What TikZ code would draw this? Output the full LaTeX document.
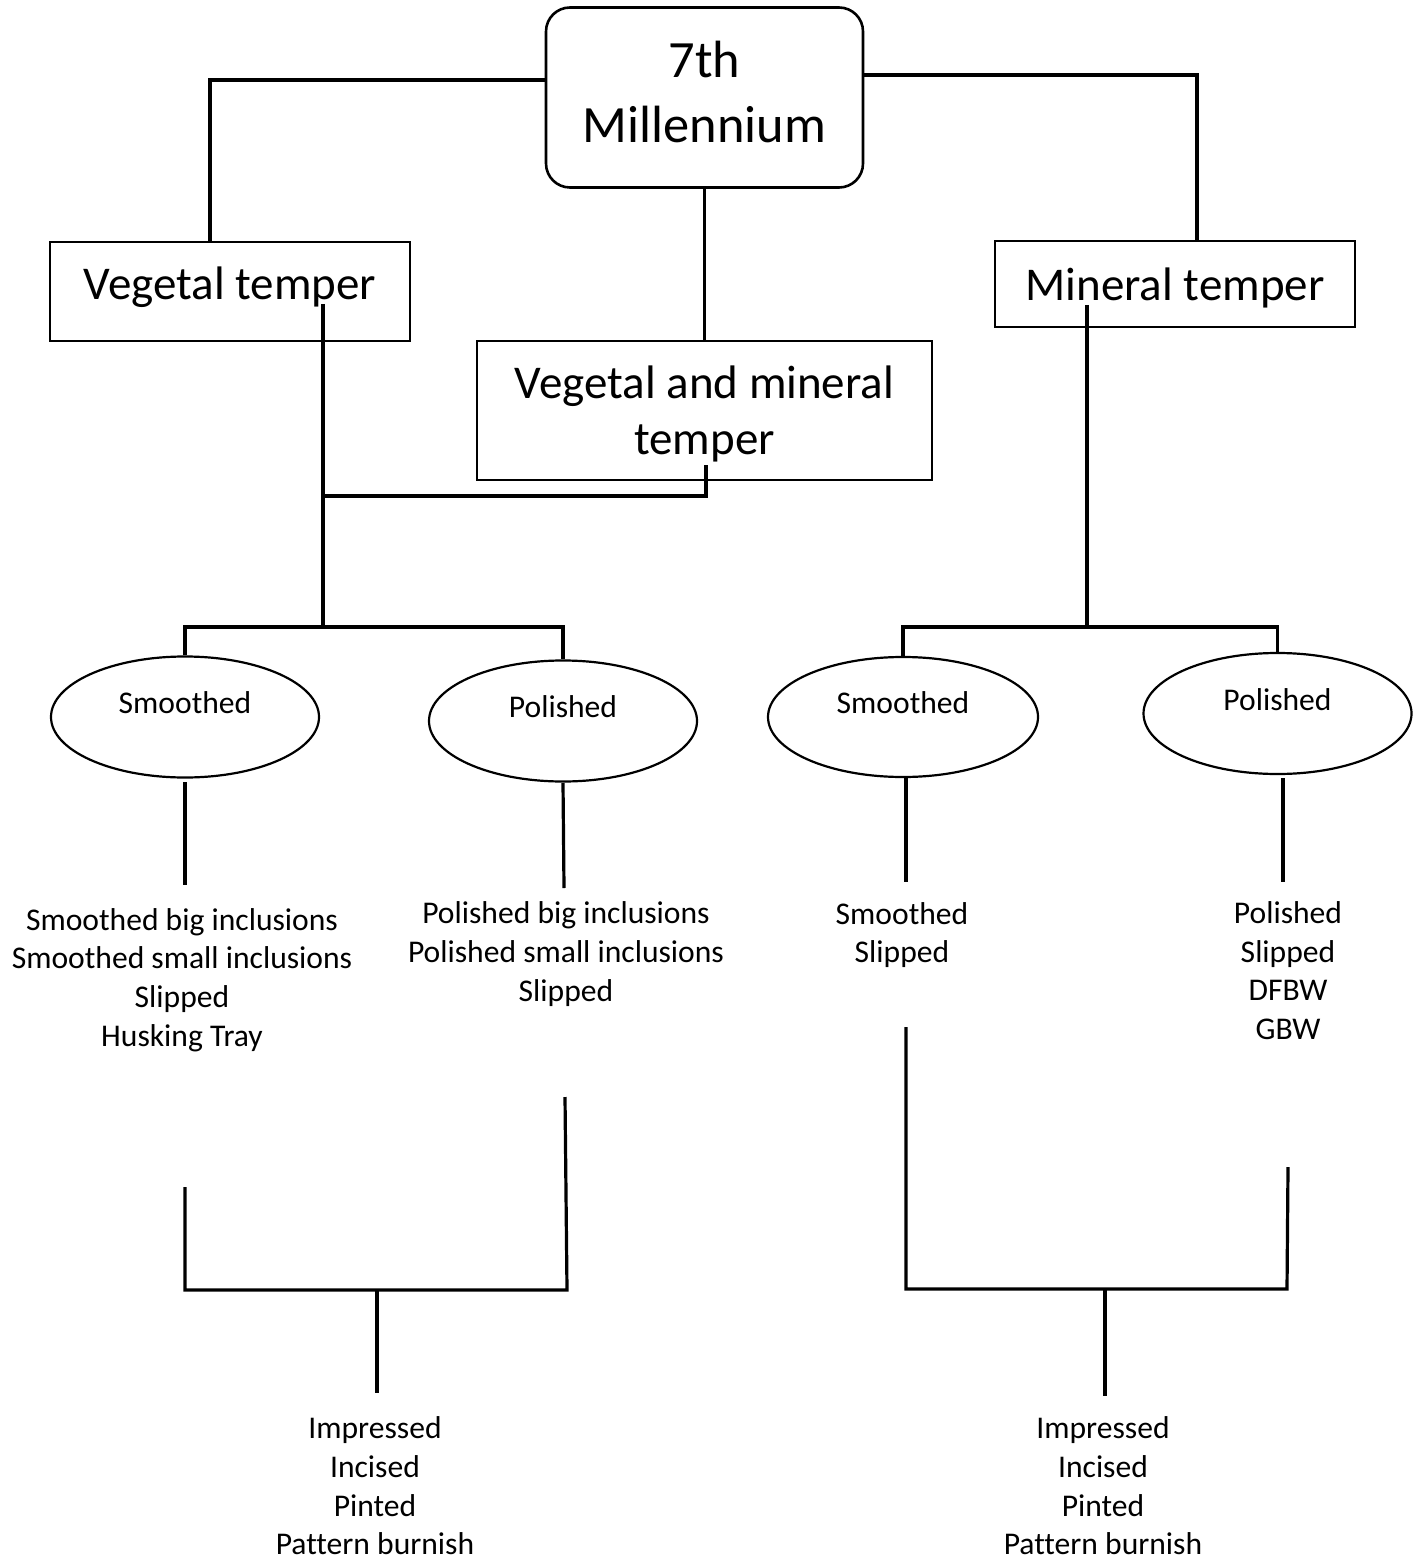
\documentclass[tikz,border=0pt]{standalone}
\usepackage{fontspec}
\setmainfont{Carlito}[Ligatures=NoCommon]
\usetikzlibrary{shapes.geometric}
\begin{document}
\begin{tikzpicture}[x=0.5pt,y=-0.5pt,
  conn/.style={line width=1.6pt},
  bigf/.style={font=\fontsize{26.2pt}{32.5pt}\selectfont},
  medf/.style={font=\fontsize{23.5pt}{28pt}\selectfont},
  smallf/.style={font=\fontsize{15.8pt}{19.3pt}\selectfont},
  rbox/.style={draw, line width=1.3pt, rounded corners=12pt, inner sep=0pt, align=center, bigf},
  sbox/.style={draw, line width=1.1pt, inner sep=0pt, align=center, medf},
  ell/.style={draw, ellipse, line width=1.1pt, inner sep=0pt, smallf,
              minimum width=134pt, minimum height=60.5pt, text depth=14pt},
  list/.style={align=center, smallf, inner sep=0pt}
]
\fill[white] (0,0) rectangle (1424,1561);
\useasboundingbox (0,0) rectangle (1424,1561);

% main nodes
\node[rbox, minimum width=158.5pt, minimum height=90pt, text depth=6pt] (top) at (704.5,97.5) {7th\\Millennium};
\node[sbox, minimum width=180pt, minimum height=49.5pt, text depth=8pt] (veg) at (230,291.5) {Vegetal temper};
\node[sbox, minimum width=180pt, minimum height=43pt, text height=20.5pt] (min) at (1175,284) {Mineral temper};
\node[sbox, minimum width=227.5pt, minimum height=69.5pt, text depth=0pt] (vm) at (704.5,410.5) {Vegetal and mineral\\temper};

% ellipses
\node[ell] (ls) at (185,717) {Smoothed};
\node[ell] (lp) at (563,721) {Polished};
\node[ell, minimum width=135pt, minimum height=60pt] (rs) at (903,717) {Smoothed};
\node[ell] (rp) at (1277.5,713.5) {Polished};

% lists
\node[list] (la) at (182,980) {Smoothed big inclusions\\Smoothed small inclusions\\Slipped\\Husking Tray};
\node[list] (lb) at (566,954) {Polished big inclusions\\Polished small inclusions\\Slipped};
\node[list] (rc) at (902,935) {Smoothed\\Slipped};
\node[list] (rd) at (1288,970.5) {Polished\\Slipped\\DFBW\\GBW};
\node[list] (le) at (375,1486) {Impressed\\Incised\\Pinted\\Pattern burnish};
\node[list] (rf) at (1103,1486) {Impressed\\Incised\\Pinted\\Pattern burnish};

% coordinates
\coordinate (tl) at (210,80);
\coordinate (tr) at (1197,75);
\coordinate (va) at (323,304);
\coordinate (vj) at (323,496);
\coordinate (vb) at (323,627);
\coordinate (vma) at (706,465);
\coordinate (ma) at (1087,305);
\coordinate (mb) at (1087,627);
\coordinate (ls1) at (185,782);
\coordinate (ls2) at (185,885);
\coordinate (lp1) at (563,783);
\coordinate (lp2) at (564,888);
\coordinate (rs1) at (906,778);
\coordinate (rs2) at (906,882);
\coordinate (rp1) at (1283,778);
\coordinate (rp2) at (1283,882);
\coordinate (lk1) at (185,1187);
\coordinate (lk2) at (185,1290);
\coordinate (lk3) at (567,1290);
\coordinate (lk4) at (565,1097);
\coordinate (lk5) at (377,1290);
\coordinate (lk6) at (377,1393);
\coordinate (rk1) at (906,1027);
\coordinate (rk2) at (906,1289);
\coordinate (rk3) at (1287,1289);
\coordinate (rk4) at (1288,1167);
\coordinate (rk5) at (1105,1289);
\coordinate (rk6) at (1105,1396);

% connectors
\draw[conn] (top.west |- tl) -- (tl) -- (veg.north -| tl);
\draw[conn] (top.east |- tr) -- (tr) -- (min.north -| tr);
\draw[conn] (top.south) -- (vm.north);
\draw[conn] (va) -- (vb);
\draw[conn] (vma) -- (vma |- vj) -- (vj);
\draw[conn] (ls.north) -- (ls.north |- vb) -- (lp.north |- vb) -- (lp.north);
\draw[conn] (ma) -- (mb);
\draw[conn] (rs.north) -- (rs.north |- mb) -- (rp.north |- mb) -- (rp.north);
\draw[conn] (ls1) -- (ls2);
\draw[conn] (lp1) -- (lp2);
\draw[conn] (rs1) -- (rs2);
\draw[conn] (rp1) -- (rp2);
\draw[conn] (lk1) -- (lk2) -- (lk3) -- (lk4);
\draw[conn] (lk5) -- (lk6);
\draw[conn] (rk1) -- (rk2) -- (rk3) -- (rk4);
\draw[conn] (rk5) -- (rk6);
\end{tikzpicture}
\end{document}
